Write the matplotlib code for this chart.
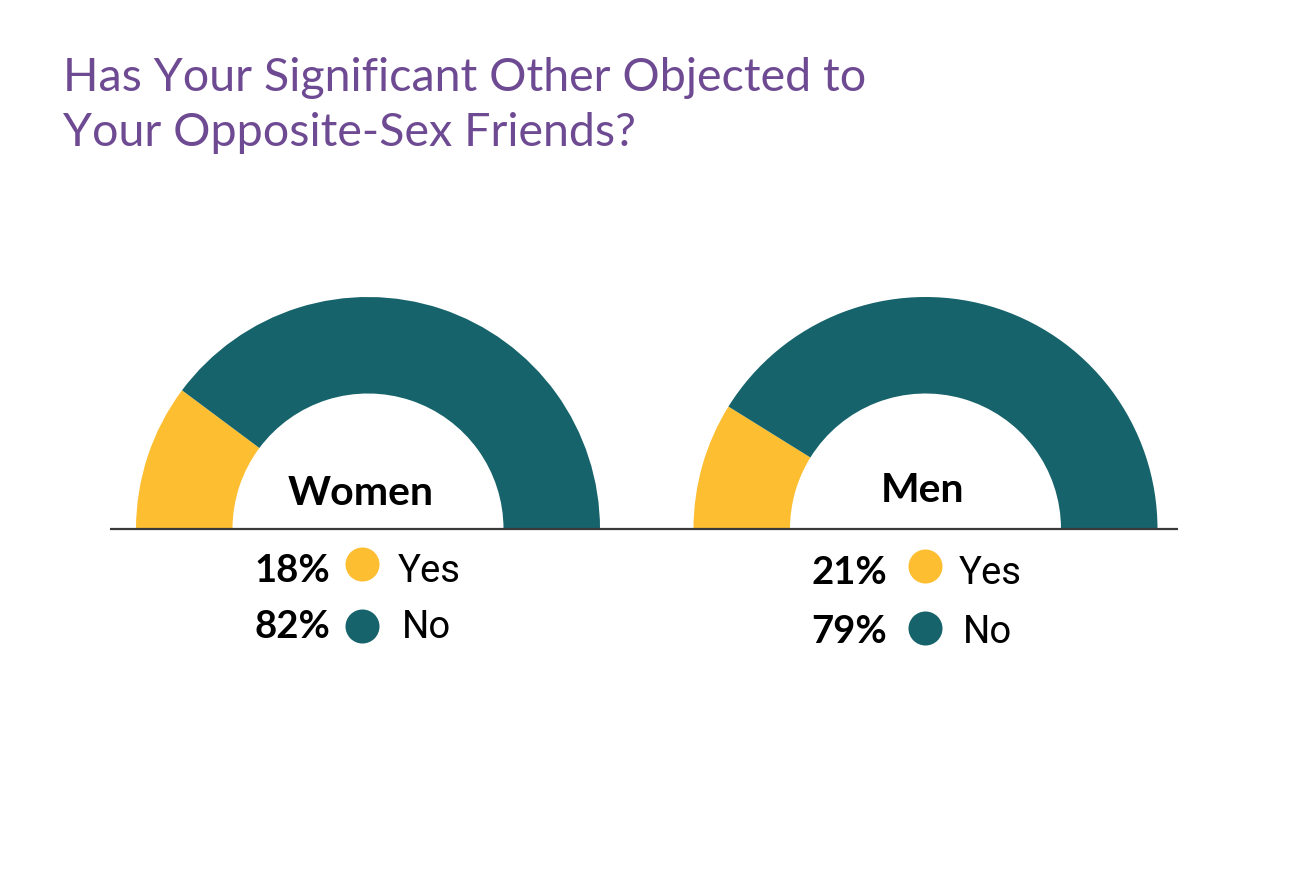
import matplotlib.pyplot as plt

# data
groups = ['Women', 'Men']
yes_pct = [18, 21]
no_pct = [82, 79]
# share of the half ring painted yellow, as drawn in the picture
yes_arc = [20.4, 17.7]

yellow = '#FDBE32'
teal = '#16636B'
purple = '#6E4A93'

W, H = 1290, 878
fig = plt.figure(figsize=(W / 100, H / 100), dpi=100)
ax = fig.add_axes([0, 0, 1, 1])

def Y(py):
    # pixel row -> data y
    return H - py

centers_x = [368, 925.5]
base_y = 530
r_out = 232
ring_w = 96.5

for i, g in enumerate(groups):
    vals = [yes_arc[i], 100 - yes_arc[i], 100]
    wedges, _ = ax.pie(vals, colors=[yellow, teal, 'none'], startangle=180,
                       counterclock=False, radius=r_out,
                       center=(centers_x[i], Y(base_y)),
                       wedgeprops=dict(width=ring_w, linewidth=0))

ax.plot([110, 1178], [Y(base_y), Y(base_y)], color='#3a3a3a', lw=1.6,
        solid_capstyle='butt', zorder=5)

# group names inside the rings
name_x = [361, 923]
name_y = [505, 502]
for i, g in enumerate(groups):
    ax.text(name_x[i], Y(name_y[i]), g, ha='center', va='baseline',
            fontsize=29.5, fontweight='bold', family='Lato', color='black')

# legends
pct_right = [330, 887]
dot_x = [362, 925]
word_x = [398, 959]
row_y = [[582, 638], [584, 643]]
dot_y = [[565, 627], [567, 629]]
for i in range(len(groups)):
    for j, (p, lab, c) in enumerate([(yes_pct[i], 'Yes', yellow),
                                     (no_pct[i], 'No', teal)]):
        ax.text(pct_right[i], Y(row_y[i][j]), f'{p}%', ha='right', va='baseline',
                fontsize=27.5, fontweight='bold', family='Lato', color='black')
        ax.scatter([dot_x[i]], [Y(dot_y[i][j])], s=600, color=c, lw=0, zorder=6)
        ax.text(word_x[i] + (4 if lab == 'No' else 0), Y(row_y[i][j]), lab,
                ha='left', va='baseline', fontsize=27.5,
                family='Roboto', color='black')

ax.text(63, Y(91), 'Has Your Significant Other Objected to', ha='left',
        va='baseline', fontsize=33.6, family='Lato', color=purple)
ax.text(63, Y(146), 'Your Opposite-Sex Friends?', ha='left',
        va='baseline', fontsize=33.6, family='Lato', color=purple)

ax.set_xlim(0, W)
ax.set_ylim(0, H)
ax.set_aspect('auto')
ax.axis('off')

fig.savefig('out.png', dpi=100, facecolor='white')
